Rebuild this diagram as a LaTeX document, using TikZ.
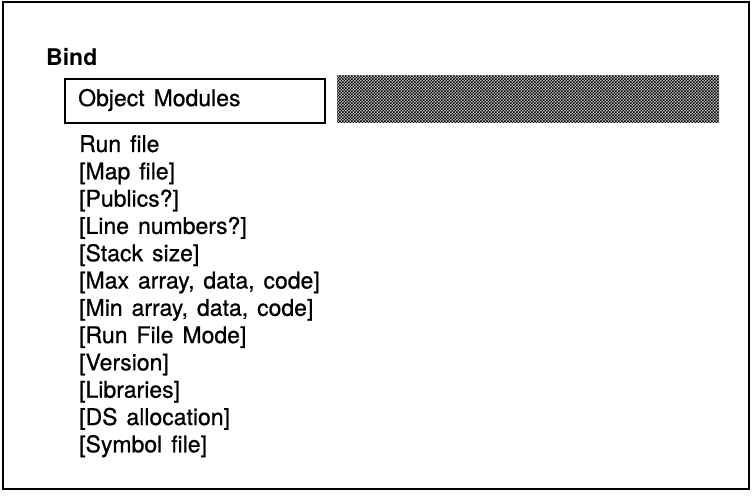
\documentclass[tikz,border=0pt]{standalone}
\usepackage{fontspec}
\setmainfont{TeX Gyre Heros}[WordSpace=1.4]
\newfontfamily\medfont{TeX Gyre Heros}[WordSpace=1.4,FakeBold=0.7]
\usetikzlibrary{patterns}
\pgfdeclarepatternformonly{finecheck}{\pgfpointorigin}{\pgfqpoint{3.05pt}{3.05pt}}{\pgfqpoint{3pt}{3pt}}{%
  \pgfpathrectangle{\pgfpointorigin}{\pgfqpoint{1.55pt}{1.55pt}}%
  \pgfpathrectangle{\pgfqpoint{1.5pt}{1.5pt}}{\pgfqpoint{1.55pt}{1.55pt}}%
  \pgfusepath{fill}}
\begin{document}
\begin{tikzpicture}[x=1pt,y=-1pt,
  frame/.style={draw=black,line width=2pt},
  modbox/.style={draw=black,line width=2pt,minimum width=260pt,minimum height=44pt,inner sep=0pt},
  shade/.style={pattern=finecheck,pattern color=black},
  item/.style={anchor=base west,inner sep=0pt,font=\medfont\fontsize{23}{27}\selectfont},
  title/.style={anchor=base west,inner sep=0pt,font=\fontsize{23}{27}\selectfont\bfseries}]
\useasboundingbox (0,0) rectangle (753,497);
\fill[white] (0,0) rectangle (753,497);
\draw[frame] (3,2) rectangle (749,489);
\node[title] (bind) at (46,66) {Bind};
\node[modbox,anchor=north west] (mods) at (64,78) {};
\node[item,anchor=west] (modstext) at (78,100) {Object Modules};
\fill[gray!35,rounded corners=2pt] (337,76) rectangle (719,123);
\fill[shade] (337,76) rectangle (719,123);
\node[item] (l1) at (79,152) {Run file};
\node[item] (l2) at (79,179.3) {[Map file]};
\node[item] (l3) at (79,206.6) {[Publics?]};
\node[item] (l4) at (79,233.9) {[Line numbers?]};
\node[item] (l5) at (79,261.2) {[Stack size]};
\node[item] (l6) at (79,288.5) {[Max array, data, code]};
\node[item] (l7) at (79,315.8) {[Min array, data, code]};
\node[item] (l8) at (79,343.1) {[Run File Mode]};
\node[item] (l9) at (79,370.4) {[Version]};
\node[item] (l10) at (79,397.7) {[Libraries]};
\node[item] (l11) at (79,425) {[DS allocation]};
\node[item] (l12) at (79,452.3) {[Symbol file]};
\end{tikzpicture}
\end{document}
